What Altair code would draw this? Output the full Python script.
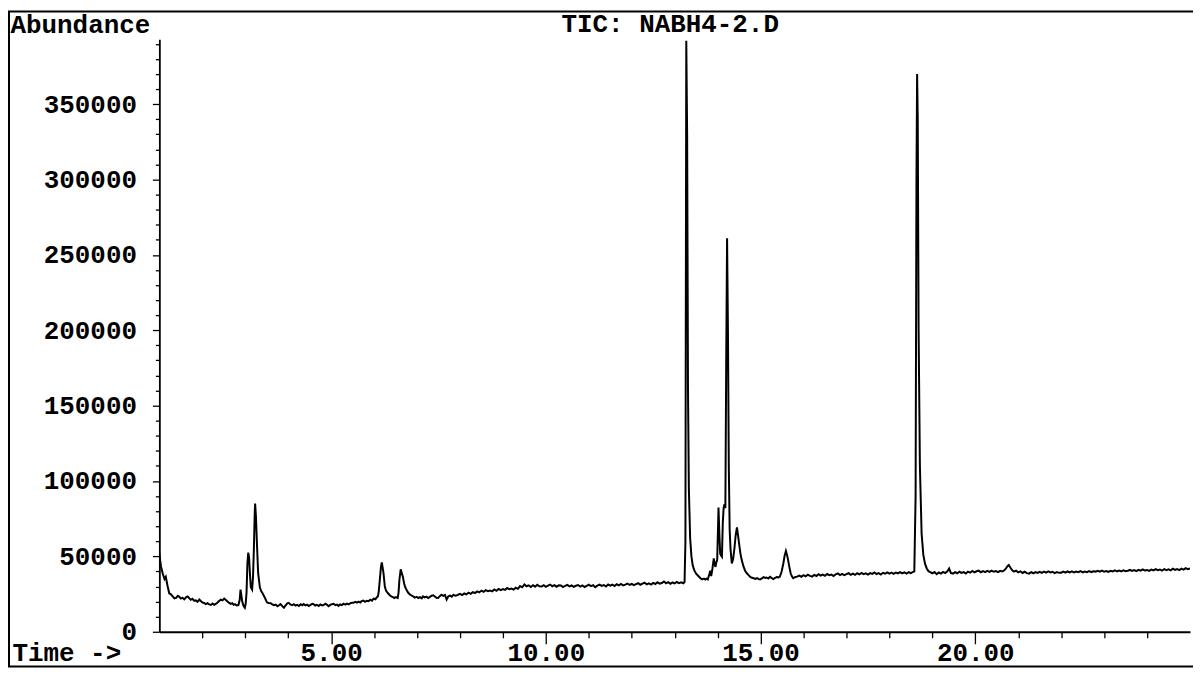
import altair as alt
import pandas as pd

# ---- chromatogram trace (time in min, abundance) ----
early = [
    [1.00, 52000], [1.02, 47000], [1.04, 43000], [1.08, 38500], [1.12, 35000], [1.15, 36500],
    [1.19, 30500], [1.23, 25500], [1.27, 24800], [1.31, 23500], [1.35, 22100], [1.39, 22400],
    [1.43, 23800], [1.46, 23300], [1.50, 22000], [1.54, 22600], [1.58, 21500], [1.62, 22800],
    [1.66, 23400], [1.70, 22100], [1.73, 21200], [1.77, 21900], [1.81, 20600], [1.85, 20800],
    [1.89, 19900], [1.93, 21400], [1.97, 20200], [2.00, 19500], [2.04, 19100], [2.08, 18400],
    [2.12, 19000], [2.16, 18200], [2.20, 17800], [2.24, 18700], [2.28, 17900], [2.32, 18600],
    [2.35, 19300], [2.39, 20400], [2.43, 21300], [2.47, 20800], [2.51, 22000], [2.55, 21100],
    [2.58, 20200], [2.62, 19300], [2.66, 18500], [2.70, 18900], [2.73, 17900], [2.76, 18300],
    [2.80, 17400], [2.84, 17700], [2.87, 21000], [2.89, 28000], [2.91, 24000], [2.93, 20000],
    [2.96, 17200], [2.99, 15900], [3.01, 18500], [3.03, 26000], [3.05, 45000], [3.07, 52500],
    [3.09, 49000], [3.11, 38000], [3.13, 29500], [3.16, 28000], [3.18, 36000], [3.20, 54000],
    [3.22, 78000], [3.23, 85000], [3.25, 76000], [3.27, 60000], [3.30, 39000], [3.34, 29500],
    [3.37, 27000], [3.40, 25700], [3.43, 24000], [3.46, 22400], [3.49, 20500], [3.51, 19400],
    [3.55, 19000], [3.59, 18900],
]
middle = [
    [3.63, 18200], [3.67, 17600], [3.71, 18000], [3.75, 16900], [3.78, 17400], [3.82, 18300],
    [3.86, 17100], [3.90, 16000], [3.94, 17500], [3.98, 18900], [4.01, 19200], [4.05, 18100],
    [4.09, 17600], [4.13, 18300], [4.17, 17400], [4.21, 17900], [4.25, 17100], [4.29, 18200],
    [4.33, 17600], [4.36, 18400], [4.40, 17500], [4.44, 18000], [4.48, 17100], [4.52, 17800],
    [4.56, 18500], [4.59, 18300], [4.63, 17400], [4.67, 17900], [4.71, 17100], [4.75, 18100],
    [4.79, 17500], [4.83, 17800], [4.87, 18600], [4.91, 17700], [4.94, 16900], [4.98, 17800],
    [5.02, 18300], [5.06, 18500], [5.10, 17600], [5.14, 18000], [5.17, 17200], [5.21, 18100],
    [5.25, 17700], [5.29, 18600], [5.33, 18000], [5.37, 18700], [5.41, 18200], [5.45, 18900],
    [5.49, 19300], [5.52, 19200], [5.56, 19800], [5.60, 19300], [5.64, 20000], [5.68, 19400],
    [5.71, 20400], [5.75, 20700], [5.79, 19900], [5.83, 20600], [5.87, 20300], [5.91, 21300],
    [5.95, 20600], [5.99, 22000], [6.03, 21600], [6.06, 22700], [6.09, 23500], [6.11, 27000],
    [6.14, 36500], [6.16, 43000], [6.18, 46000], [6.20, 42500], [6.22, 38800], [6.25, 30000],
    [6.28, 27200], [6.32, 25700], [6.36, 24400], [6.40, 23500], [6.44, 22900], [6.47, 22400],
    [6.51, 23000], [6.55, 22400], [6.57, 26000], [6.59, 34500], [6.62, 41400], [6.64, 39500],
    [6.67, 36500], [6.70, 32000], [6.72, 30000], [6.76, 27500], [6.80, 25700], [6.84, 24600],
    [6.88, 23900], [6.91, 23500], [6.95, 22700], [6.99, 23200], [7.03, 22400], [7.07, 23000],
    [7.11, 22200], [7.14, 23500], [7.18, 22800], [7.22, 23300], [7.26, 22400], [7.30, 23100],
    [7.34, 23900], [7.38, 24200], [7.42, 23300], [7.45, 22500], [7.49, 22400], [7.53, 23600],
    [7.57, 24600], [7.61, 23800], [7.65, 24400], [7.69, 21400], [7.73, 23500], [7.77, 24000],
    [7.81, 23300], [7.85, 24600], [7.89, 23900],
]
rise = [
    [7.93, 24200], [8.00, 25100], [8.05, 24300], [8.10, 25400], [8.15, 24800], [8.20, 25900],
    [8.25, 25200], [8.30, 26300], [8.35, 25700], [8.40, 26800], [8.45, 26100], [8.50, 27300],
    [8.55, 26500], [8.60, 27600], [8.65, 26900], [8.70, 27400], [8.75, 26800], [8.80, 28100],
    [8.85, 27200], [8.90, 28400], [8.95, 27600], [9.00, 28300], [9.05, 27800], [9.10, 29000],
    [9.15, 28200], [9.20, 28700], [9.25, 28000], [9.30, 29200], [9.35, 28500], [9.40, 30300],
    [9.45, 29500], [9.50, 31400], [9.55, 30200], [9.60, 30800], [9.65, 29700], [9.70, 30900],
    [9.75, 29900], [9.80, 31200], [9.85, 30100], [9.90, 30000], [9.95, 30900], [10.00, 29800],
    [10.05, 30600], [10.10, 31300], [10.15, 30200], [10.20, 30900], [10.25, 29900], [10.30, 30800],
    [10.35, 30700], [10.40, 29600], [10.45, 30500], [10.50, 31100], [10.55, 30100], [10.60, 30700],
    [10.65, 29800], [10.70, 30500], [10.75, 31000], [10.80, 30000], [10.85, 30800], [10.90, 29700],
    [10.95, 30400], [11.00, 31200], [11.05, 30300], [11.10, 30900], [11.15, 29600], [11.20, 30600],
    [11.25, 31300], [11.30, 30400], [11.35, 31000], [11.40, 30100], [11.45, 31400], [11.50, 30600],
    [11.55, 31200], [11.60, 30300], [11.65, 31500], [11.70, 30800], [11.75, 31700], [11.80, 30700],
    [11.85, 31300], [11.90, 32000], [11.95, 31100], [12.00, 31800], [12.05, 30900], [12.10, 31600],
    [12.15, 32200], [12.20, 31200], [12.25, 31900], [12.30, 32500], [12.35, 31400], [12.40, 32100],
    [12.45, 31300], [12.50, 32400], [12.55, 31700], [12.60, 32800], [12.65, 31900], [12.70, 32300],
    [12.75, 33400], [12.80, 32200], [12.85, 32900], [12.90, 31800], [12.95, 32700], [13.00, 32100],
    [13.05, 33000], [13.10, 32300], [13.15, 32800], [13.20, 32200],
]
cluster = [
    [13.23, 33000], [13.25, 60000], [13.27, 392000], [13.29, 330000], [13.31, 160000], [13.33, 95000],
    [13.36, 62000], [13.39, 50000], [13.42, 44000], [13.46, 40500], [13.50, 38500], [13.55, 37000],
    [13.60, 35500], [13.64, 34800], [13.68, 35300], [13.71, 34600], [13.74, 35200], [13.77, 34700],
    [13.80, 37500], [13.83, 40500], [13.85, 37000], [13.88, 42000], [13.91, 48600], [13.93, 45000],
    [13.95, 43000], [13.97, 46000], [13.99, 47700], [14.01, 70000], [14.02, 82400], [14.04, 65000],
    [14.06, 51800], [14.08, 50500], [14.10, 49700], [14.12, 72000], [14.14, 82400], [14.16, 84500],
    [14.18, 82000], [14.20, 180000], [14.22, 261000], [14.24, 200000], [14.26, 110000], [14.28, 68000],
    [14.30, 55000], [14.33, 45300], [14.36, 48000], [14.39, 55000], [14.42, 64000], [14.45, 69300],
    [14.48, 63000], [14.50, 58400], [14.53, 52000], [14.56, 47700], [14.60, 43500], [14.64, 40500],
    [14.68, 38800], [14.72, 37600], [14.76, 36400], [14.80, 35800], [14.84, 35500], [14.88, 35000],
    [14.92, 35600], [14.96, 34900], [14.99, 34700], [15.03, 35400], [15.07, 36200], [15.11, 35700],
    [15.14, 36000], [15.18, 35300], [15.22, 36500], [15.26, 35600], [15.30, 34900], [15.34, 35800],
    [15.38, 36300], [15.42, 36100], [15.45, 36600], [15.49, 40000], [15.53, 45300], [15.56, 50500],
    [15.59, 53600], [15.62, 50500], [15.64, 47700], [15.67, 43000], [15.70, 38800], [15.73, 36800],
    [15.76, 35500], [15.80, 36200],
]
late = [
    [15.85, 36600], [15.90, 37300], [15.95, 36500], [16.00, 37500], [16.05, 36800], [16.10, 37900],
    [16.15, 37100], [16.20, 36600], [16.25, 37700], [16.30, 37000], [16.35, 38200], [16.40, 37300],
    [16.45, 37900], [16.50, 37100], [16.55, 38300], [16.60, 37500], [16.65, 37900], [16.70, 37000],
    [16.75, 38100], [16.80, 38700], [16.85, 37600], [16.90, 38400], [16.95, 37500], [17.00, 38200],
    [17.05, 38900], [17.10, 37800], [17.15, 38500], [17.20, 37700], [17.25, 38800], [17.30, 38100],
    [17.35, 39000], [17.40, 38200], [17.45, 38700], [17.50, 37900], [17.55, 38900], [17.60, 38400],
    [17.65, 39300], [17.70, 38300], [17.75, 38900], [17.80, 38000], [17.85, 39100], [17.90, 38500],
    [17.95, 39400], [18.00, 38600], [18.05, 39200], [18.10, 38400], [18.15, 39300], [18.20, 38700],
    [18.25, 39600], [18.30, 38800], [18.35, 39400], [18.40, 38600], [18.45, 39500], [18.50, 38900],
    [18.55, 39700], [18.58, 40000], [18.61, 90000], [18.63, 300000], [18.645, 370000], [18.66, 340000],
    [18.68, 200000], [18.71, 110000], [18.75, 65000], [18.79, 51000], [18.83, 45000], [18.87, 42000],
    [18.91, 40200], [18.95, 39500], [19.00, 38800], [19.05, 39600], [19.10, 38200], [19.15, 39300],
    [19.20, 38600], [19.25, 39700], [19.30, 38900], [19.35, 40100], [19.39, 42000], [19.43, 39000],
    [19.48, 38600], [19.53, 39500], [19.58, 38800], [19.63, 39800], [19.68, 39000], [19.73, 39600],
    [19.78, 38700], [19.83, 39900], [19.88, 39200], [19.93, 40300], [19.98, 39400], [20.03, 40100],
    [20.08, 40500], [20.13, 39500], [20.18, 40300], [20.23, 39600], [20.28, 40400], [20.33, 39700],
    [20.38, 40600], [20.43, 39800], [20.48, 40200], [20.53, 39500], [20.58, 40400], [20.63, 40000],
    [20.67, 40600], [20.71, 41800], [20.75, 43500], [20.78, 44300], [20.82, 42500], [20.86, 40800],
    [20.90, 39900], [20.95, 40500], [21.00, 39400], [21.05, 40100], [21.10, 39000], [21.15, 39800],
    [21.20, 38900], [21.25, 38600], [21.30, 39500], [21.35, 38800], [21.40, 39600], [21.45, 39000],
    [21.50, 39800], [21.55, 39100], [21.60, 39900], [21.65, 39200], [21.70, 40000], [21.75, 39300],
    [21.80, 39700], [21.85, 38900], [21.90, 39600], [21.95, 39100], [22.00, 39200], [22.05, 39900],
    [22.10, 39200], [22.15, 40000], [22.20, 39400], [22.25, 40100], [22.30, 39300], [22.35, 39900],
    [22.40, 39500], [22.45, 40200], [22.50, 39400], [22.55, 40000], [22.60, 39500], [22.65, 40300],
    [22.70, 39600], [22.75, 40100], [22.80, 39900], [22.85, 40400], [22.90, 39800], [22.95, 40500],
    [23.00, 39900], [23.05, 40300], [23.10, 39700], [23.15, 40400], [23.20, 40000], [23.25, 40700],
    [23.30, 40100], [23.35, 40600], [23.40, 40000], [23.45, 40800], [23.50, 40200], [23.55, 40500],
    [23.60, 41000], [23.65, 40300], [23.70, 40900], [23.75, 40200], [23.80, 41100], [23.85, 40500],
    [23.90, 41300], [23.95, 40600], [24.00, 41000], [24.05, 40400], [24.10, 41200], [24.15, 40700],
    [24.20, 41500], [24.25, 40800], [24.30, 41300], [24.35, 40600], [24.40, 41600], [24.45, 40900],
    [24.50, 41400], [24.55, 40700], [24.60, 41800], [24.65, 41000], [24.70, 41600], [24.75, 40900],
    [24.80, 41900], [24.85, 41200], [24.90, 42200], [24.95, 41500], [25.00, 42000],
]

x_tick_values = list(range(2, 25))                 # minute ticks; labelled every 5
y_tick_values = list(range(0, 390001, 10000))      # 10000 ticks; labelled every 50000
chart_title = "TIC: NABH4-2.D"

rows = early + middle + rise + cluster + late
df = pd.DataFrame(rows, columns=["time", "abundance"])

FONT = "Liberation Mono"
FS = 26
PLOT_H = 595
PAD_TOP = 30

x_axis = alt.Axis(
    values=x_tick_values,
    labelExpr="datum.value % 5 === 0 ? format(datum.value, '.2f') : ''",
    labelFont=FONT, labelFontSize=FS, labelFontWeight="bold", labelColor="black",
    labelBaseline="alphabetic", labelPadding=17, labelOverlap=False, labelFlush=False,
    tickSize={"condition": {"test": "datum.value % 5 === 0", "value": 12}, "value": 6},
    tickColor="black", tickWidth=1.3,
    domainColor="black", domainWidth=1.8, grid=False,
    title="Time ->", titleFont=FONT, titleFontSize=FS, titleFontWeight="bold", titleColor="black",
    titleX=-148, titleY=29, titleAlign="left", titleBaseline="alphabetic", titleAngle=0,
)
y_axis = alt.Axis(
    values=y_tick_values,
    labelExpr="datum.value % 50000 === 0 ? format(datum.value, 'd') : ''",
    labelFont=FONT, labelFontSize=FS, labelFontWeight="bold", labelColor="black",
    labelPadding=16, labelOverlap=False, labelFlush=False,
    tickSize={"condition": {"test": "datum.value % 50000 === 0", "value": 7}, "value": 4},
    tickColor="black", tickWidth=1.3,
    domainColor="black", domainWidth=1.8, grid=False,
    title="Abundance", titleFont=FONT, titleFontSize=FS, titleFontWeight="bold", titleColor="black",
    titleX=-150, titleY=-7, titleAlign="left", titleBaseline="alphabetic", titleAngle=0,
)

trace = alt.Chart(df).mark_line(color="black", strokeWidth=2, clip=True).encode(
    x=alt.X("time:Q", scale=alt.Scale(domain=[1, 25], nice=False, zero=False), axis=x_axis),
    y=alt.Y("abundance:Q", scale=alt.Scale(domain=[0, 393000], nice=False), axis=y_axis),
)

title_text = alt.Chart(alt.Data(values=[{"label": chart_title}])).mark_text(
    font=FONT, fontSize=FS, fontWeight="bold", color="black", align="center", baseline="alphabetic"
).encode(x=alt.value(513), y=alt.value(-7), text="label:N")

frame = alt.Chart(alt.Data(values=[{"k": 1}])).mark_rect(
    fillOpacity=0, stroke="black", strokeWidth=2
).encode(x=alt.value(-151), x2=alt.value(1045), y=alt.value(-PAD_TOP + 2), y2=alt.value(PLOT_H + 35))

chart = alt.layer(trace, title_text, frame).properties(
    width=1035, height=PLOT_H,
    autosize=alt.AutoSizeParams(type="none"),
    padding={"left": 152, "top": PAD_TOP, "right": 3, "bottom": 37},
    background="white",
).configure_view(strokeWidth=0)

chart.save("out.html", embed_options={"renderer": "svg", "actions": False})
